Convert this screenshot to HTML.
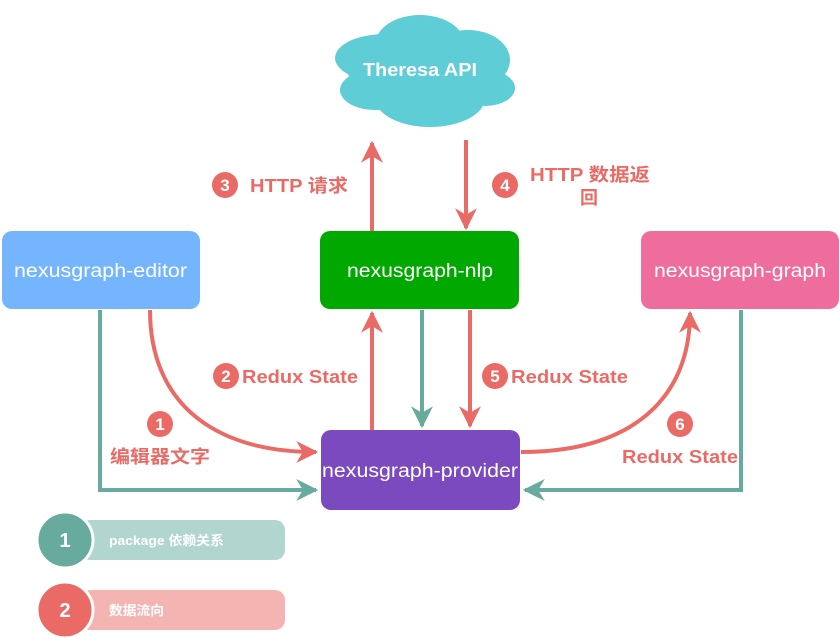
<!DOCTYPE html>
<html><head><meta charset="utf-8"><style>
html,body{margin:0;padding:0;background:#fff;}
svg{display:block;font-family:"Liberation Sans","Noto Sans CJK SC",sans-serif;}
</style></head><body>
<svg width="840" height="642" viewBox="0 0 840 642" xmlns="http://www.w3.org/2000/svg">
<defs>
<marker id="ar" viewBox="0 0 10 10" refX="9" refY="5" markerWidth="5.5" markerHeight="5.5" orient="auto" markerUnits="strokeWidth"><path d="M0,0 L10,5 L0,10 L3,5 z" fill="#ea6b66"/></marker>
<marker id="at" viewBox="0 0 10 10" refX="9" refY="5" markerWidth="5.5" markerHeight="5.5" orient="auto" markerUnits="strokeWidth"><path d="M0,0 L10,5 L0,10 L3,5 z" fill="#67ab9f"/></marker>
</defs>
<g fill="#5ecdd5">
<ellipse cx="385" cy="58" rx="50" ry="24"/>
<ellipse cx="420" cy="45" rx="45" ry="30"/>
<ellipse cx="468" cy="60" rx="42" ry="30"/>
<ellipse cx="375" cy="90" rx="35" ry="20"/>
<ellipse cx="430" cy="98" rx="55" ry="29"/>
<ellipse cx="485" cy="88" rx="30" ry="18"/>
<ellipse cx="420" cy="72" rx="72" ry="32"/>
</g>
<text x="363" y="76" fill="#fff" font-size="18" font-weight="bold" textLength="114" lengthAdjust="spacingAndGlyphs">Theresa API</text>
<rect x="2" y="231" width="198" height="78" rx="10" fill="#75b5fe"/>
<text x="14" y="277" fill="#fff" font-size="19" textLength="173" lengthAdjust="spacingAndGlyphs">nexusgraph-editor</text>
<rect x="320" y="231" width="199" height="78" rx="10" fill="#00a800"/>
<text x="347" y="277" fill="#fff" font-size="19" textLength="146" lengthAdjust="spacingAndGlyphs">nexusgraph-nlp</text>
<rect x="641" y="231" width="198" height="78" rx="10" fill="#ef6d9d"/>
<text x="654" y="277" fill="#fff" font-size="19" textLength="172" lengthAdjust="spacingAndGlyphs">nexusgraph-graph</text>
<rect x="321" y="430" width="199" height="80" rx="10" fill="#7a4abe"/>
<text x="322" y="477" fill="#fff" font-size="19" textLength="196" lengthAdjust="spacingAndGlyphs">nexusgraph-provider</text>
<g fill="none" stroke="#67ab9f" stroke-width="4">
<path d="M100 310 V490 H316" marker-end="url(#at)"/>
<path d="M741 310 V490 H525" marker-end="url(#at)"/>
<path d="M422 310 V426" marker-end="url(#at)"/>
</g>
<g fill="none" stroke="#ea6b66" stroke-width="4">
<path d="M150 310 C150 400 210 452 316 452" marker-end="url(#ar)"/>
<path d="M521 452 C630 452 690 400 690 313" marker-end="url(#ar)"/>
<path d="M372 430 V313" marker-end="url(#ar)"/>
<path d="M470 310 V426" marker-end="url(#ar)"/>
<path d="M372 231 V143" marker-end="url(#ar)"/>
<path d="M466 140 V228" marker-end="url(#ar)"/>
</g>
<g fill="#ea6b66" font-size="18" font-weight="bold">
<circle cx="225" cy="185" r="13"/><text x="225" y="191" fill="#fff" text-anchor="middle" font-size="17">3</text>
<text x="250" y="192" textLength="98" lengthAdjust="spacingAndGlyphs">HTTP 请求</text>
<circle cx="505" cy="185" r="13"/><text x="505" y="191" fill="#fff" text-anchor="middle" font-size="17">4</text>
<text x="530" y="181" textLength="120" lengthAdjust="spacingAndGlyphs">HTTP 数据返</text>
<text x="589" y="204" text-anchor="middle">回</text>
<circle cx="226" cy="376" r="13"/><text x="226" y="382" fill="#fff" text-anchor="middle" font-size="17">2</text>
<text x="242" y="383" textLength="116" lengthAdjust="spacingAndGlyphs">Redux State</text>
<circle cx="495" cy="376" r="13"/><text x="495" y="382" fill="#fff" text-anchor="middle" font-size="17">5</text>
<text x="511" y="383" textLength="117" lengthAdjust="spacingAndGlyphs">Redux State</text>
<circle cx="160" cy="424" r="13"/><text x="160" y="430" fill="#fff" text-anchor="middle" font-size="17">1</text>
<text x="110" y="463" textLength="100" lengthAdjust="spacingAndGlyphs">编辑器文字</text>
<circle cx="680" cy="424" r="13"/><text x="680" y="430" fill="#fff" text-anchor="middle" font-size="17">6</text>
<text x="622" y="463" textLength="116" lengthAdjust="spacingAndGlyphs">Redux State</text>
</g>
<rect x="80" y="520" width="205" height="40" rx="10" fill="#b1d6cf"/>
<circle cx="65" cy="540" r="28" fill="#67ab9f" stroke="#fff" stroke-width="3"/>
<text x="65" y="547" fill="#fff" font-size="20" font-weight="bold" text-anchor="middle">1</text>
<text x="109" y="545" fill="#fff" font-size="13" font-weight="bold" textLength="115" lengthAdjust="spacingAndGlyphs">package 依赖关系</text>
<rect x="80" y="590" width="205" height="40" rx="10" fill="#f4b5b2"/>
<circle cx="65" cy="610" r="28" fill="#ea6b66" stroke="#fff" stroke-width="3"/>
<text x="65" y="617" fill="#fff" font-size="20" font-weight="bold" text-anchor="middle">2</text>
<text x="109" y="615" fill="#fff" font-size="13" font-weight="bold" textLength="55" lengthAdjust="spacingAndGlyphs">数据流向</text>
</svg>
</body></html>
